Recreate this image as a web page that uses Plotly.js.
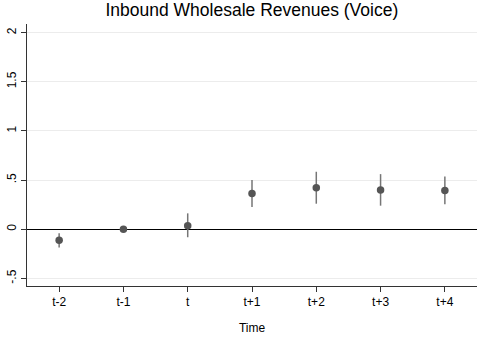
<!DOCTYPE html>
<html>
<head>
<meta charset="utf-8">
<script src="https://cdn.plot.ly/plotly-3.0.1.min.js"></script>
<style>html,body{margin:0;padding:0;background:#fff;}#chart{width:477px;height:337px;}</style>
</head>
<body>
<div id="chart"></div>
<script>
const categories = ["t-2", "t-1", "t", "t+1", "t+2", "t+3", "t+4"];
const coef = [-0.112, 0.0, 0.037, 0.363, 0.422, 0.399, 0.395];
const ciLow = [-0.186, 0.0, -0.081, 0.226, 0.26, 0.24, 0.254];
const ciHigh = [-0.04, 0.0, 0.162, 0.5, 0.585, 0.561, 0.537];
const yTickVals = [-0.5, 0, 0.5, 1, 1.5, 2];
const yTickText = ["-.5", "0", ".5", "1", "1.5", "2"];

const trace = {
  x: categories,
  y: coef,
  type: "scatter",
  mode: "markers",
  marker: {color: "#555555", size: 7.5},
  error_y: {
    type: "data",
    symmetric: false,
    array: coef.map((v, i) => ciHigh[i] - v),
    arrayminus: coef.map((v, i) => v - ciLow[i]),
    color: "#767676",
    thickness: 1.5,
    width: 0
  },
  showlegend: false,
  hoverinfo: "skip"
};

const layout = {
  width: 477, height: 337,
  margin: {l: 27, r: 0, t: 24, b: 51},
  paper_bgcolor: "#ffffff",
  plot_bgcolor: "#ffffff",
  font: {family: "Liberation Sans, Arial, sans-serif", color: "#000"},
  title: {text: "Inbound Wholesale Revenues (Voice)", font: {size: 17.5, color: "#000"}, x: 0.528, xanchor: "center", y: 0.97, yanchor: "middle"},
  xaxis: {
    type: "category",
    range: [-0.5, 6.5],
    showgrid: false,
    zeroline: false,
    showline: true, linecolor: "#333", linewidth: 1,
    ticks: "outside", ticklen: 5, tickcolor: "#333",
    tickfont: {size: 12},
    title: {text: "Time", font: {size: 12}, standoff: 15}
  },
  yaxis: {
    range: [-0.577, 2.088],
    tickvals: yTickVals, ticktext: yTickText,
    tickangle: -90,
    showgrid: true, gridcolor: "#ececec", gridwidth: 1,
    zeroline: true, zerolinecolor: "#000", zerolinewidth: 1,
    showline: true, linecolor: "#333", linewidth: 1,
    ticks: "outside", ticklen: 5, tickcolor: "#333",
    tickfont: {size: 12}
  }
};

Plotly.newPlot("chart", [trace], layout, {staticPlot: true, displayModeBar: false});
</script>
</body>
</html>
